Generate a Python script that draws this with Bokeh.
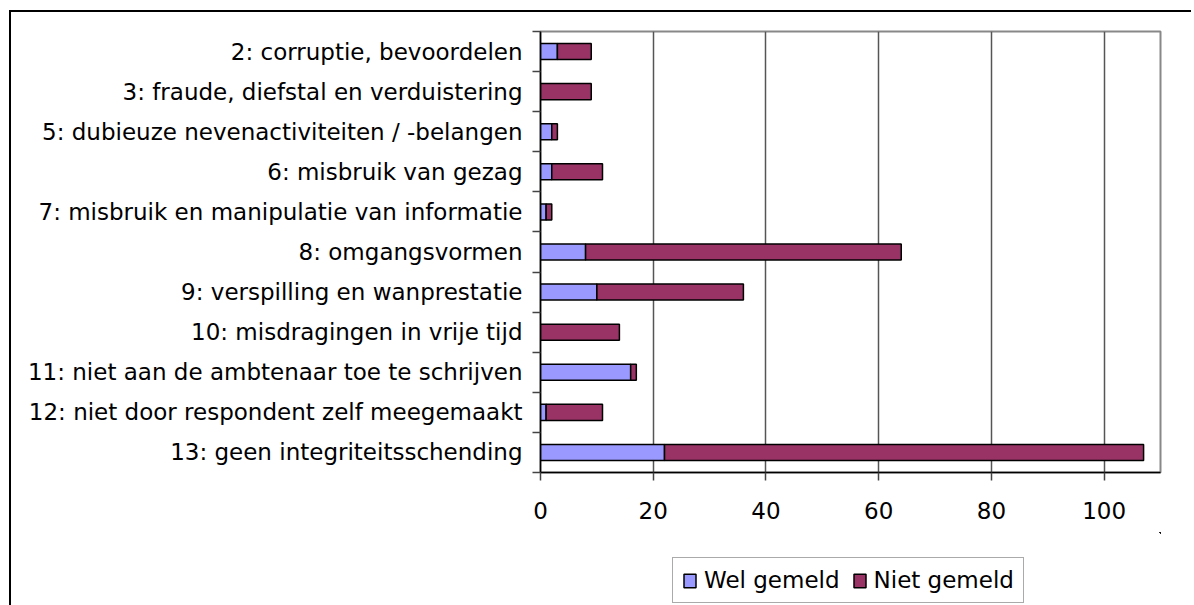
from bokeh.plotting import figure
from bokeh.layouts import column
from bokeh.models import ColumnDataSource, FixedTicker, Range1d, Legend, LegendItem
from bokeh.embed import file_html
from bokeh.resources import INLINE

categories = [
    "2: corruptie, bevoordelen",
    "3: fraude, diefstal en verduistering",
    "5: dubieuze nevenactiviteiten / -belangen",
    "6: misbruik van gezag",
    "7: misbruik en manipulatie van informatie",
    "8: omgangsvormen",
    "9: verspilling en wanprestatie",
    "10: misdragingen in vrije tijd",
    "11: niet aan de ambtenaar toe te schrijven",
    "12: niet door respondent zelf meegemaakt",
    "13: geen integriteitsschending",
]
wel_gemeld = [3, 0, 2, 2, 1, 8, 10, 0, 16, 1, 22]
niet_gemeld = [6, 9, 1, 9, 1, 56, 26, 14, 1, 10, 85]
x_ticks = [0, 20, 40, 60, 80, 100]
series_names = ["Wel gemeld", "Niet gemeld"]
colors = ["#9999FF", "#993366"]

n = len(categories)
ypos = [n - i - 0.5 for i in range(n)]
source = ColumnDataSource(dict(y=ypos, wel=wel_gemeld, niet=niet_gemeld))

FONT = "DejaVu Sans"
FS = "23px"

p = figure(width=1180, height=520, output_backend="svg", toolbar_location=None,
           x_range=Range1d(0, 110), y_range=Range1d(0, n),
           min_border_left=529, min_border_top=19, min_border_right=31,
           min_border_bottom=60)

renderers = p.hbar_stack(["wel", "niet"], y="y", height=0.4, color=colors,
                         line_color="black", line_width=1.5, source=source)

p.outline_line_color = "#888888"
p.outline_line_width = 2
p.background_fill_color = "white"
p.border_fill_color = "white"

# x axis
p.xaxis.ticker = FixedTicker(ticks=x_ticks)
p.xaxis.major_tick_out = 8
p.xaxis.major_tick_in = 0
p.xaxis.minor_tick_out = 0
p.xaxis.axis_line_color = "black"
p.xaxis.axis_line_width = 1.5
p.xaxis.major_tick_line_color = "#444444"
p.xaxis.major_tick_line_width = 1.5
p.xaxis.major_label_text_font = FONT
p.xaxis.major_label_text_font_size = FS
p.xaxis.major_label_text_color = "black"
p.xaxis.major_label_standoff = 21

# y axis
p.yaxis.ticker = FixedTicker(ticks=ypos, minor_ticks=list(range(n + 1)))
p.yaxis.major_label_overrides = {y: c for y, c in zip(ypos, categories)}
p.yaxis.major_tick_out = 0
p.yaxis.major_tick_in = 0
p.yaxis.minor_tick_out = 8
p.yaxis.minor_tick_in = 0
p.yaxis.minor_tick_line_color = "#444444"
p.yaxis.minor_tick_line_width = 1.5
p.yaxis.axis_line_color = "black"
p.yaxis.axis_line_width = 1.5
p.yaxis.major_label_text_font = FONT
p.yaxis.major_label_text_font_size = FS
p.yaxis.major_label_text_color = "black"
p.yaxis.major_label_standoff = 10

p.xgrid.ticker = FixedTicker(ticks=x_ticks)
p.xgrid.grid_line_color = "#555555"
p.xgrid.grid_line_width = 1.5
p.ygrid.grid_line_color = None

# legend holder figure (bars kept out of view; only the legend is visible)
pleg = figure(width=1180, height=73, output_backend="svg", toolbar_location=None,
              x_range=Range1d(-10, -9), y_range=Range1d(-10, -9),
              x_axis_location=None, y_axis_location=None, min_border=0)
pleg.outline_line_color = None
pleg.xgrid.visible = False
pleg.ygrid.visible = False
pleg.border_fill_color = "white"
pleg.background_fill_color = "white"
leg_renderers = pleg.hbar_stack(["wel", "niet"], y="y", height=0.4, color=colors,
                                line_color="black", line_width=1.5, source=source)

legend = Legend(items=[LegendItem(label=series_names[i], renderers=[leg_renderers[i]])
                       for i in range(2)],
                location=(132, 2), orientation="horizontal")
legend.label_text_font = FONT
legend.label_text_font_size = FS
legend.label_text_color = "black"
legend.glyph_width = 15
legend.glyph_height = 17
legend.label_standoff = 7
legend.spacing = 12
legend.padding = 9
legend.margin = 0
legend.border_line_color = "#555555"
legend.border_line_width = 1.5
legend.background_fill_alpha = 1
pleg.add_layout(legend, "center")

layout = column(p, pleg, spacing=0)
layout.styles = {"margin-left": "9px", "margin-top": "10px",
                 "border-left": "2px solid black", "border-top": "2px solid black"}

open("out.html", "w").write(file_html(layout, INLINE))
